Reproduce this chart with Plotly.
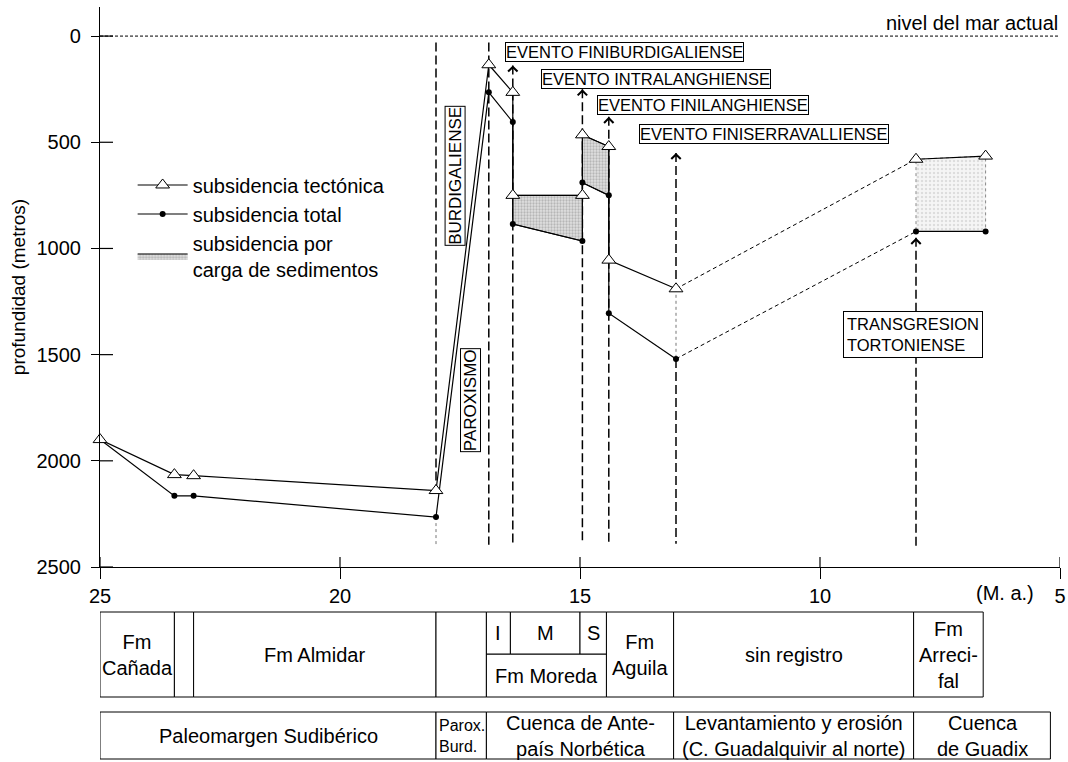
import plotly.graph_objects as go

FONT = "Liberation Sans, Arial, sans-serif"

# ---- data (ages in Ma, depths in m) ----
age = [25, 23.45, 23.05, 18.0, 16.9, 16.4, 16.4, 14.95, 14.95, 14.4, 14.4, 13.0, 8.0, 6.55]
tect = [1900, 2065, 2070, 2140, 135, 265, 750, 750, 465, 520, 1055, 1190, 580, 565]
total = [1900, 2165, 2165, 2265, 265, 405, 885, 965, 690, 750, 1305, 1520, 920, 920]

# index ranges of the path: solid / dashed (no record) / solid
seg_solid_1 = (0, 12)
seg_dashed = (11, 13)
seg_solid_2 = (12, 14)

# shaded intervals (pairs of indices) = load subsidence
shaded_pairs = [(6, 7), (8, 9), (12, 13)]
shaded_style = ["dark", "dark", "light"]

# vertical event lines (age, top depth, bottom depth)
ev_age = [18.0, 16.9, 16.4, 14.95, 14.4, 13.0, 13.0, 8.0]
ev_top = [30, 30, 138, 250, 380, 550, 1520, 950]
ev_bot = [2140, 2395, 2395, 2390, 2390, 1190, 2390, 2405]
arrow_idx = [2, 3, 4, 5, 7]
dot_age = [18.0, 13.0]
dot_top = [2265, 1190]
dot_bot = [2405, 1520]

# event labels (left age, depth)
ev_labels = ["EVENTO FINIBURDIGALIENSE", "EVENTO INTRALANGHIENSE",
             "EVENTO FINILANGHIENSE", "EVENTO FINISERRAVALLIENSE"]
ev_lab_age = [16.56, 15.81, 14.65, 13.77]
ev_lab_dep = [77, 202, 325, 459]

y_ticks = [0, 500, 1000, 1500, 2000, 2500]
x_ticks = [25, 20, 15, 10, 5]

# stratigraphic table, row 1
row1_left = [25, 23.45, 23.05, 18.0, 14.45, 13.05, 8.05]
row1_right = [23.45, 23.05, 18.0, 16.95, 13.05, 8.05, 6.6]
row1_text = ["Fm<br>Cañada", "", "Fm Almidar", "", "Fm<br>Aguila", "sin registro",
             "Fm<br>Arreci-<br>fal"]
moreda_bounds = [16.95, 16.45, 15.0, 14.45]
moreda_sub = ["I", "M", "S"]
moreda_text = "Fm Moreda"
# row 2
row2_bounds = [25, 18.0, 16.95, 13.05, 8.05, 5.2]
row2_text = ["Paleomargen Sudibérico", "Parox.<br>Burd.", "Cuenca de Ante-<br>país Norbética",
             "Levantamiento y erosión<br>(C. Guadalquivir al norte)", "Cuenca<br>de Guadix"]

PLOT_TOP = 7.0
PLOT_BOT = 567.0
PLOT_H = PLOT_BOT - PLOT_TOP
PLOT_W = 960.0


def py2paper(py):
    # page pixel row -> paper y
    return (PLOT_BOT - py) / PLOT_H


fig = go.Figure()

# shaded polygons
first = True
for (i, j), st in zip(shaded_pairs, shaded_style):
    xs = [age[i], age[j], age[j], age[i], age[i]]
    ys = [tect[i], tect[j], total[j], total[i], tect[i]]
    if st == "dark":
        patt = dict(shape=".", fgcolor="#8c8c8c", bgcolor="#e0e0e0", size=3, solidity=0.45)
        ln = dict(color="black", width=1)
    else:
        patt = dict(shape=".", fgcolor="#c4c4c4", bgcolor="#f5f5f5", size=4, solidity=0.3)
        ln = dict(color="#888", width=1, dash="dot")
    fig.add_trace(go.Scatter(x=xs, y=ys, mode="lines", fill="toself", fillpattern=patt,
                             line=ln, name="subsidencia por<br>carga de sedimentos",
                             showlegend=first, legendrank=3, hoverinfo="skip"))
    first = False

tri = dict(symbol="triangle-up", size=12, color="white", line=dict(color="black", width=1))
dot = dict(symbol="circle", size=6, color="black")

for k, (a, b) in enumerate([seg_solid_1, seg_solid_2]):
    fig.add_trace(go.Scatter(x=age[a:b], y=total[a:b], mode="lines+markers", cliponaxis=False,
                             line=dict(color="black", width=1.2), marker=dot,
                             name="subsidencia total", showlegend=(k == 0), legendrank=2))
a, b = seg_dashed
fig.add_trace(go.Scatter(x=age[a:b], y=total[a:b], mode="lines", showlegend=False,
                         line=dict(color="black", width=1, dash="4px,3px")))
fig.add_trace(go.Scatter(x=age[a:b], y=tect[a:b], mode="lines", showlegend=False,
                         line=dict(color="black", width=1, dash="4px,3px")))
for k, (a, b) in enumerate([seg_solid_1, seg_solid_2]):
    fig.add_trace(go.Scatter(x=age[a:b], y=tect[a:b], mode="lines+markers", cliponaxis=False,
                             line=dict(color="black", width=1.2), marker=tri,
                             name="subsidencia tectónica", showlegend=(k == 0), legendrank=1))

shapes = []
# sea level
shapes.append(dict(type="line", xref="x", yref="y", x0=x_ticks[0], x1=x_ticks[-1], y0=0, y1=0,
                   line=dict(color="black", width=1, dash="3px,2px"), layer="below"))
for xa, t, bt in zip(ev_age, ev_top, ev_bot):
    shapes.append(dict(type="line", xref="x", yref="y", x0=xa, x1=xa, y0=t, y1=bt,
                       line=dict(color="black", width=1.5, dash="9px,4px"), layer="below"))
for xa, t, bt in zip(dot_age, dot_top, dot_bot):
    shapes.append(dict(type="line", xref="x", yref="y", x0=xa, x1=xa, y0=t, y1=bt,
                       line=dict(color="#777", width=1, dash="dot"), layer="below"))
# inner halves of the tick marks (ticks cross the axis lines)
for yt in y_ticks:
    shapes.append(dict(type="line", xref="paper", yref="y", x0=0, x1=13 / PLOT_W, y0=yt, y1=yt,
                       line=dict(color="black", width=1.2)))
for xt in x_ticks:
    shapes.append(dict(type="line", xref="x", yref="paper", x0=xt, x1=xt, y0=0, y1=10 / PLOT_H,
                       line=dict(color="black", width=1.2)))

annotations = []
for i in arrow_idx:
    annotations.append(dict(x=ev_age[i], y=ev_top[i], xref="x", yref="y", ax=0, ay=5,
                            showarrow=True, arrowhead=4, arrowsize=1.4, arrowwidth=1.3,
                            arrowcolor="black", text=""))
for t, xa, yd in zip(ev_labels, ev_lab_age, ev_lab_dep):
    annotations.append(dict(x=xa, y=yd, xref="x", yref="y", xanchor="left", yanchor="middle",
                            text=t, showarrow=False, bgcolor="white", bordercolor="black",
                            borderwidth=1, borderpad=0, font=dict(size=16.5, family=FONT, color="black")))
annotations.append(dict(x=17.6, y=657, xref="x", yref="y", text="BURDIGALIENSE", textangle=-90,
                        showarrow=False, bgcolor="white", bordercolor="black", borderwidth=1,
                        borderpad=0, font=dict(size=17, family=FONT, color="black")))
annotations.append(dict(x=17.29, y=1714, xref="x", yref="y", text="PAROXISMO", textangle=-90,
                        showarrow=False, bgcolor="white", bordercolor="black", borderwidth=1,
                        borderpad=0, font=dict(size=17, family=FONT, color="black")))
annotations.append(dict(x=8.07, y=1407, xref="x", yref="y", text="TRANSGRESION<br>TORTONIENSE",
                        align="left", showarrow=False, bgcolor="white", bordercolor="black",
                        borderwidth=1, borderpad=3, font=dict(size=16.5, family=FONT, color="black")))
annotations.append(dict(x=1, y=0, xref="paper", yref="y", xanchor="right", yanchor="bottom",
                        text="nivel del mar actual", showarrow=False,
                        font=dict(size=20, family=FONT, color="black")))
annotations.append(dict(x=(1005 - 100) / PLOT_W, y=py2paper(593), xref="paper", yref="paper",
                        xanchor="center", yanchor="middle",
                        text="(M. a.)", showarrow=False, font=dict(size=20, family=FONT, color="black")))

# table rows (vertical extents in page pixels)
r1_top, r1_bot, r1_mid = py2paper(612), py2paper(697), py2paper(654)
r2_top, r2_bot = py2paper(712), py2paper(759)
cell_line = dict(color="black", width=1)
txt_font = dict(size=20, family=FONT, color="black")
for l, r, t in zip(row1_left, row1_right, row1_text):
    shapes.append(dict(type="rect", xref="x", yref="paper", x0=l, x1=r, y0=r1_bot, y1=r1_top,
                       line=cell_line, fillcolor="white"))
    if t:
        annotations.append(dict(x=(l + r) / 2, y=(r1_top + r1_bot) / 2, xref="x", yref="paper",
                                xanchor="center", yanchor="middle",
                                text=t, showarrow=False, font=txt_font))
shapes.append(dict(type="rect", xref="x", yref="paper", x0=moreda_bounds[0], x1=moreda_bounds[-1],
                   y0=r1_bot, y1=r1_mid, line=cell_line, fillcolor="white"))
annotations.append(dict(x=(moreda_bounds[0] + moreda_bounds[-1]) / 2, y=(r1_mid + r1_bot) / 2,
                        xref="x", yref="paper", xanchor="center", yanchor="middle",
                        text=moreda_text, showarrow=False, font=txt_font))
for l, r, t in zip(moreda_bounds[:-1], moreda_bounds[1:], moreda_sub):
    shapes.append(dict(type="rect", xref="x", yref="paper", x0=l, x1=r, y0=r1_mid, y1=r1_top,
                       line=cell_line, fillcolor="white"))
    annotations.append(dict(x=(l + r) / 2, y=(r1_mid + r1_top) / 2, xref="x", yref="paper",
                            xanchor="center", yanchor="middle",
                            text=t, showarrow=False, font=txt_font))
for l, r, t in zip(row2_bounds[:-1], row2_bounds[1:], row2_text):
    shapes.append(dict(type="rect", xref="x", yref="paper", x0=l, x1=r, y0=r2_bot, y1=r2_top,
                       line=cell_line, fillcolor="white"))
    if t.startswith("Parox"):
        annotations.append(dict(x=l, y=(r2_top + r2_bot) / 2, xref="x", yref="paper", xanchor="left",
                                yanchor="middle", xshift=1, align="left", text=t, showarrow=False,
                                font=dict(size=16, family=FONT, color="black")))
    else:
        annotations.append(dict(x=(l + r) / 2, y=(r2_top + r2_bot) / 2, xref="x", yref="paper",
                                xanchor="center", yanchor="middle",
                                text=t, showarrow=False, font=txt_font))

fig.update_layout(
    width=1068, height=762, autosize=False,
    margin=dict(l=100, r=8, t=7, b=195, autoexpand=False),
    plot_bgcolor="white", paper_bgcolor="white",
    font=dict(family=FONT, size=20, color="black"),
    shapes=shapes, annotations=annotations,
    showlegend=True,
    legend=dict(x=0.034, y=0.717, xanchor="left", yanchor="top", bgcolor="rgba(0,0,0,0)",
                font=dict(size=20, family=FONT, color="black"), itemwidth=50, tracegroupgap=0),
    xaxis=dict(range=[25, 5], tickvals=x_ticks, ticks="outside", ticklen=11, tickwidth=1.2,
               tickcolor="black", showline=True, linecolor="black", linewidth=1.2,
               showgrid=False, zeroline=False, tickfont=dict(size=20), ticklabelstandoff=0,
               ticklabeloverflow="allow"),
    yaxis=dict(range=[2500, -137], tickvals=y_ticks, ticks="outside", ticklen=8, tickwidth=1.2,
               tickcolor="black", showline=True, linecolor="black", linewidth=1.2,
               showgrid=False, zeroline=False, tickfont=dict(size=20), ticklabelstandoff=6,
               title=dict(text="profundidad (metros)", font=dict(size=19), standoff=5)),
)

# place the figure at the window's top-left corner, without page margin, scrollbars or modebar
fig.write_html("out.html", config={"displayModeBar": False}, post_script=(
    "document.documentElement.style.overflow='hidden';"
    "document.body.style.overflow='hidden';"
    "document.body.style.margin='0';"))
